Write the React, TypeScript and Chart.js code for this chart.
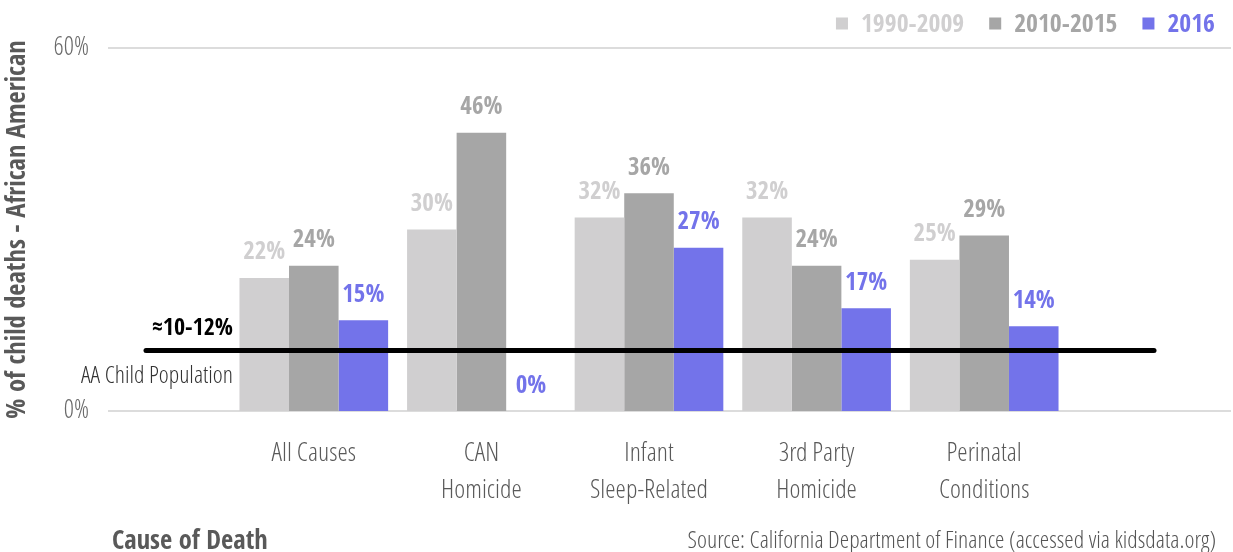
import React, { useEffect, useRef } from "react";
import { Chart, registerables } from "chart.js";

Chart.register(...registerables);

const categories: string[][] = [
  ["All Causes"],
  ["CAN", "Homicide"],
  ["Infant", "Sleep-Related"],
  ["3rd Party", "Homicide"],
  ["Perinatal", "Conditions"],
];
const seriesNames = ["1990-2009", "2010-2015", "2016"];
const values1990 = [22, 30, 32, 32, 25];
const values2010 = [24, 46, 36, 24, 29];
const values2016 = [15, 0, 27, 17, 14];
const yTicks = [0, 60];
const populationLevel = 10;
const populationLabel = "≈10-12%";
const populationCaption = "AA Child Population";
const yTitle = "% of child deaths - African American";
const xTitle = "Cause of Death";
const sourceText = "Source: California Department of Finance (accessed via kidsdata.org)";

const COLORS = ["#d0cfd0", "#a6a6a6", "#7373ea"];
const BOLD = "'Open Sans Condensed', 'Open Sans', sans-serif";
const LIGHT = "'Open Sans Condensed Light', 'Open Sans', sans-serif";

const overlayPlugin = {
  id: "overlay",
  beforeDatasetsDraw(chart: any) {
    const { ctx, chartArea, scales } = chart;
    const y = scales.y;
    ctx.save();
    ctx.strokeStyle = "#dcdcdc";
    ctx.lineWidth = 2;
    yTicks.forEach((v) => {
      const py = Math.round(y.getPixelForValue(v));
      ctx.beginPath();
      ctx.moveTo(chartArea.left - 122, py);
      ctx.lineTo(chart.width - 2, py);
      ctx.stroke();
    });
    ctx.restore();
  },
  afterDatasetsDraw(chart: any) {
    const { ctx, chartArea, scales } = chart;
    const y = scales.y;
    ctx.save();
    // data labels
    chart.data.datasets.forEach((ds: any, di: number) => {
      const meta = chart.getDatasetMeta(di);
      meta.data.forEach((el: any, i: number) => {
        ctx.font = `25px ${BOLD}`;
        ctx.fillStyle = COLORS[di];
        ctx.textAlign = "center";
        ctx.textBaseline = "alphabetic";
        ctx.fillText(`${ds.data[i]}%`, el.x, el.y - 18.5);
      });
    });
    // population reference line
    const py = y.getPixelForValue(populationLevel);
    ctx.strokeStyle = "#000";
    ctx.lineWidth = 5;
    ctx.lineCap = "round";
    ctx.beginPath();
    ctx.moveTo(chartArea.left - 84, py);
    ctx.lineTo(chartArea.right + 86, py);
    ctx.stroke();
    ctx.textAlign = "right";
    ctx.textBaseline = "alphabetic";
    ctx.fillStyle = "#000";
    ctx.font = `24px ${BOLD}`;
    ctx.fillText(populationLabel, chartArea.left + 3, py - 16);
    ctx.fillStyle = "#333";
    ctx.font = `24px ${LIGHT}`;
    ctx.fillText(populationCaption, chartArea.left + 3, py + 32);
    // bottom texts
    ctx.textAlign = "left";
    ctx.fillStyle = "#595959";
    ctx.font = `26.5px ${BOLD}`;
    ctx.fillText(xTitle, chartArea.left - 118, chart.height - 3);
    ctx.textAlign = "right";
    ctx.fillStyle = "#555";
    ctx.font = `24px ${LIGHT}`;
    ctx.fillText(sourceText, chart.width - 17, chart.height - 4);
    // legend (right aligned, drawn right to left)
    ctx.font = `25.7px ${BOLD}`;
    let x = chart.width - 18;
    for (let i = seriesNames.length - 1; i >= 0; i--) {
      const w = ctx.measureText(seriesNames[i]).width;
      ctx.fillStyle = COLORS[i];
      ctx.textAlign = "left";
      ctx.fillText(seriesNames[i], x - w, 31.5);
      const bx = x - w - 13 - 12;
      ctx.fillRect(bx, 17.5, 12, 12);
      x = bx - 25;
    }
    ctx.restore();
  },
};

export default function App() {
  const ref = useRef<HTMLCanvasElement | null>(null);
  useEffect(() => {
    if (!ref.current) return;
    const chart = new Chart(ref.current, {
      type: "bar",
      data: {
        labels: categories,
        datasets: [
          { label: seriesNames[0], data: values1990, backgroundColor: COLORS[0] },
          { label: seriesNames[1], data: values2010, backgroundColor: COLORS[1] },
          { label: seriesNames[2], data: values2016, backgroundColor: COLORS[2] },
        ],
      },
      options: {
        animation: false,
        responsive: true,
        maintainAspectRatio: false,
        layout: { padding: { top: 48, left: 0, right: 0, bottom: 0 } },
        datasets: { bar: { categoryPercentage: 0.887, barPercentage: 1.0 } },
        plugins: {
          tooltip: { enabled: false },
          legend: { display: false },
        },
        scales: {
          x: {
            type: "category",
            grid: { display: false, drawTicks: false },
            border: { display: false },
            ticks: {
              color: "#595959",
              padding: 25,
              maxRotation: 0,
              autoSkip: false,
              font: { family: LIGHT, size: 26.3, lineHeight: 1.41 },
            },
            afterFit: (s: any) => {
              s.height = 141;
              s.paddingLeft = 0;
              s.paddingRight = 0;
            },
          },
          y: {
            min: 0,
            max: 60,
            afterBuildTicks: (s: any) => {
              s.ticks = yTicks.map((v) => ({ value: v }));
            },
            grid: { display: false, drawTicks: false },
            border: { display: false },
            ticks: {
              color: "#6a6a6a",
              padding: 141,
              font: { family: LIGHT, size: 25.5 },
              callback: (v: any) => `${v}%`,
            },
            title: {
              display: true,
              text: yTitle,
              color: "#595959",
              font: { family: BOLD, size: 26.5 },
              padding: { top: 2, bottom: 0 },
            },
            afterFit: (s: any) => {
              s.width = 230;
              s.paddingTop = 0;
              s.paddingBottom = 0;
            },
          },
          yRight: {
            position: "right",
            display: true,
            grid: { display: false, drawTicks: false },
            border: { display: false },
            ticks: { display: false },
            afterFit: (s: any) => {
              s.width = 165;
              s.paddingTop = 0;
              s.paddingBottom = 0;
            },
          },
        },
      },
      plugins: [overlayPlugin],
    } as any);
    return () => chart.destroy();
  }, []);
  return (
    <div style={{ position: "fixed", left: 0, top: 0, width: 1233, height: 552, background: "#fff" }}>
      <canvas ref={ref} />
    </div>
  );
}
